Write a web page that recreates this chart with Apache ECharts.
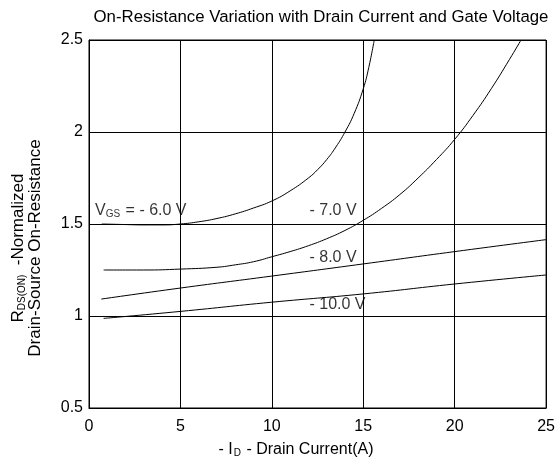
<!DOCTYPE html>
<html>
<head>
<meta charset="utf-8">
<script src="https://cdn.jsdelivr.net/npm/echarts@6/dist/echarts.min.js"></script>
<style>html,body{margin:0;padding:0;background:#fff}#c{width:558px;height:464px}</style>
</head>
<body>
<div id="c"></div>
<script>
// ---- data ----
var xTicks = [0, 5, 10, 15, 20, 25];
var yTicks = [0.5, 1, 1.5, 2, 2.5];
var vgs6 = [[0.7,1.50],[2,1.497],[3,1.495],[4,1.495],[5,1.50],[6,1.512],[7,1.53],[8,1.555],[9,1.587],[10,1.625],[11,1.68],[12,1.75],[12.5,1.795],[13,1.85],[13.5,1.918],[14,2.0],[14.5,2.1],[15,2.235],[15.3,2.35],[15.6,2.5]];
var vgs7 = [[0.8,1.25],[3,1.25],[5,1.255],[7,1.265],[8,1.278],[9,1.295],[10,1.322],[11,1.35],[12,1.382],[13,1.42],[14,1.465],[15,1.52],[16,1.585],[17,1.66],[18,1.75],[19,1.85],[20,1.96],[21,2.09],[22,2.235],[23,2.395],[23.63,2.5]];
var vgs8 = [[0.67,1.092],[5,1.152],[10,1.217],[15,1.283],[20,1.35],[25,1.415]];
var vgs10 = [[0.8,0.987],[5,1.025],[10,1.075],[15,1.12],[20,1.174],[25,1.223]];
var curveLabels = ['{v|V}{sub|GS}{v| = - 6.0 V}', '- 7.0 V', '- 8.0 V', '- 10.0 V'];
var labelAnchors = [[0.33,1.571],[12.06,1.571],[12.06,1.32],[12.06,1.0625]];
var titleText = 'On-Resistance Variation with Drain Current and Gate Voltage';
var xName = '{t|- I}{sub|D}{t| - Drain Current(A)}';
var yName = '{t|R}{sub|DS(ON)}{t|  -Normalized}\n{t|Drain-Source On-Resistance}';

var FONT = "Arial, 'Liberation Sans', sans-serif";
var chart = echarts.init(document.getElementById('c'), null, {renderer: 'canvas'});

function lineSeries(d) {
  return {type: 'line', data: d, smooth: 0.5, showSymbol: false, symbol: 'none',
    lineStyle: {color: '#000', width: 1}, silent: true, animation: false, clip: true};
}

chart.setOption({
  animation: false,
  backgroundColor: '#fff',
  title: {
    text: titleText, left: 316, top: 4, textAlign: 'center',
    textStyle: {fontFamily: FONT, fontSize: 16.8, fontWeight: 'normal', color: '#000'}
  },
  grid: {left: 89, right: 11, top: 40, bottom: 56, show: true, borderColor: '#000', borderWidth: 1, backgroundColor: 'transparent'},
  xAxis: {
    type: 'value', min: 0, max: 25, interval: 5,
    axisLine: {show: true, lineStyle: {color: '#000', width: 1}},
    axisTick: {show: false},
    axisLabel: {fontFamily: FONT, fontSize: 16, color: '#000', margin: 11,
      formatter: function (v) { return xTicks.indexOf(v) >= 0 ? String(v) : ''; }},
    splitLine: {show: true, lineStyle: {color: '#000', width: 1}}
  },
  yAxis: {
    type: 'value', min: 0.5, max: 2.5, interval: 0.5,
    axisLine: {show: true, lineStyle: {color: '#000', width: 1}},
    axisTick: {show: false},
    axisLabel: {fontFamily: FONT, fontSize: 16, color: '#000', margin: 6,
      formatter: function (v) { return yTicks.indexOf(v) >= 0 ? String(v) : ''; }},
    splitLine: {show: true, lineStyle: {color: '#000', width: 1}}
  },
  graphic: [
    {type: 'text', x: 296, y: 450, silent: true,
      style: {text: xName, align: 'center', verticalAlign: 'middle',
        rich: {t: {fontFamily: FONT, fontSize: 16, fill: '#000'}, sub: {fontFamily: FONT, fontSize: 10, fill: '#000', verticalAlign: 'bottom', padding: [5,1,0,1]}}}},
    {type: 'text', x: 27, y: 248, rotation: Math.PI / 2, silent: true,
      style: {text: yName, align: 'center', verticalAlign: 'middle',
        rich: {t: {fontFamily: FONT, fontSize: 17, fill: '#000', lineHeight: 17, align: 'center'}, sub: {fontFamily: FONT, fontSize: 10, fill: '#000', verticalAlign: 'bottom', padding: [5,0,0,0]}}}}
  ],
  series: [
    lineSeries(vgs6), lineSeries(vgs7), lineSeries(vgs8), lineSeries(vgs10),
    {type: 'scatter', symbolSize: 0, silent: true, animation: false,
      data: labelAnchors.map(function (p, i) { return {value: p, name: curveLabels[i]}; }),
      label: {show: true, position: [0, 0], align: 'left', verticalAlign: 'middle',
        formatter: function (p) { return p.name; },
        fontFamily: FONT, fontSize: 16, color: '#000',
        rich: {v: {fontFamily: FONT, fontSize: 16, color: '#000'}, sub: {fontFamily: FONT, fontSize: 10, color: '#000', verticalAlign: 'bottom', padding: [6,1,0,0]}}}}
  ]
});
</script>
</body>
</html>
